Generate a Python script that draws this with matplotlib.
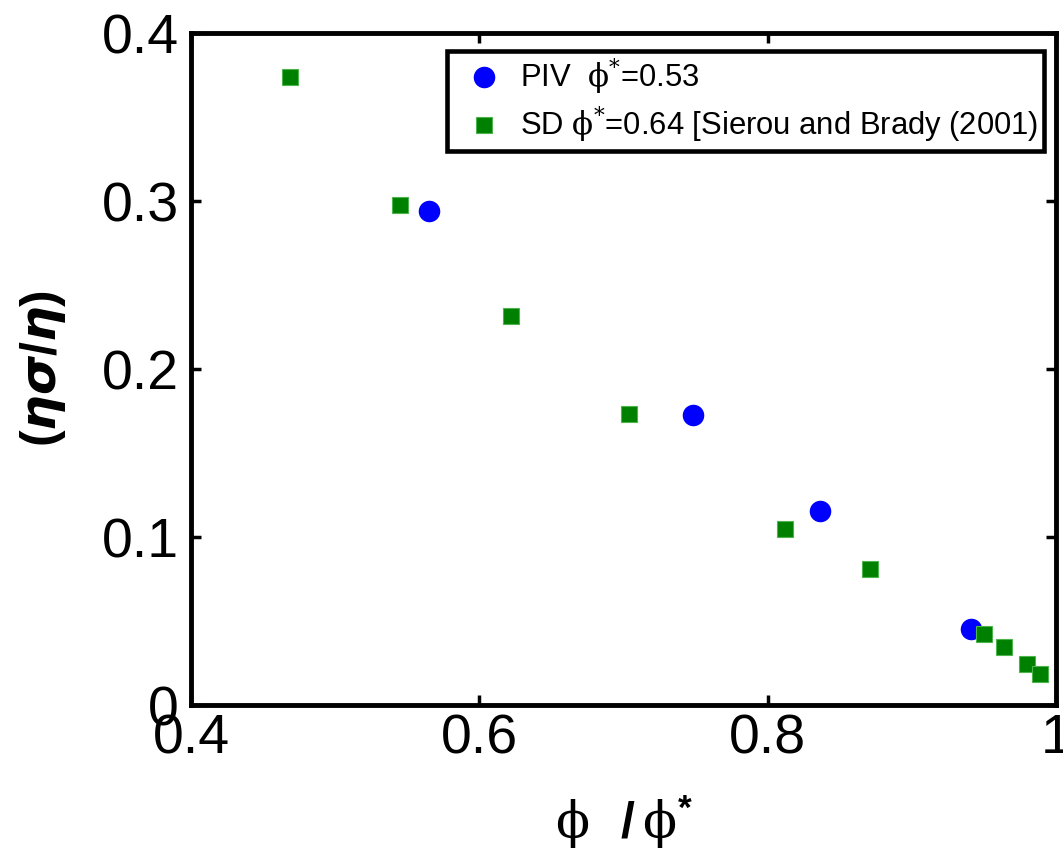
import matplotlib
matplotlib.use("Agg")
import matplotlib.pyplot as plt

plt.rcParams['font.family'] = ['Liberation Sans', 'DejaVu Sans']
plt.rcParams['mathtext.fontset'] = 'custom'
plt.rcParams['mathtext.rm'] = 'DejaVu Serif'
plt.rcParams['mathtext.it'] = 'DejaVu Serif:italic'
plt.rcParams['mathtext.bf'] = 'Liberation Sans:bold'

# Data
piv_x = [0.565, 0.748, 0.836, 0.941]
piv_y = [0.294, 0.1726, 0.1157, 0.0451]
sd_x = [0.4687, 0.5448, 0.6219, 0.704, 0.812, 0.871, 0.950, 0.964, 0.980, 0.989]
sd_y = [0.3736, 0.2976, 0.2314, 0.1734, 0.1046, 0.0811, 0.0424, 0.0347, 0.0242, 0.0185]
piv_label = r"PIV  $\mathrm{\phi}^{*}$=0.53"
sd_label = r"SD $\mathrm{\phi}^{*}$=0.64 [Sierou and Brady (2001)"
x_ticks = [0.4, 0.6, 0.8, 1.0]
x_ticklabels = ['0.4', '0.6', '0.8', '1']
y_ticks = [0, 0.1, 0.2, 0.3, 0.4]
y_ticklabels = ['0', '0.1', '0.2', '0.3', '0.4']

W, H = 1063, 856
fig = plt.figure(figsize=(W / 100, H / 100), dpi=100)
L, R, T, B = 191, 1056, 33, 705
ax = fig.add_axes([L / W, 1 - B / H, (R - L) / W, (B - T) / H])

ax.plot(piv_x, piv_y, linestyle='none', marker='o', markersize=14.5,
        color=(0, 0, 1), markeredgecolor=(0, 0, 1), label=piv_label)
ax.plot(sd_x, sd_y, linestyle='none', marker='s', markersize=12.2,
        color=(0, 0.5, 0), markeredgecolor=(0.3, 0.7, 0.3), markeredgewidth=0.8,
        label=sd_label)

ax.set_xlim(0.4, 1.0)
ax.set_ylim(0, 0.4)
ax.set_xticks(x_ticks)
ax.set_xticklabels(x_ticklabels)
ax.set_yticks(y_ticks)
ax.set_yticklabels(y_ticklabels)
ax.tick_params(direction='in', length=7, width=2.5, top=True, right=True,
               labelsize=40, pad=9)
ax.tick_params(axis='x', pad=6)
for sp in ax.spines.values():
    sp.set_linewidth(3.5)

ax.set_xlabel(r"$\mathrm{\phi}\ \ \mathbf{/}\,\mathrm{\phi}^{\mathbf{*}}$", fontsize=36,
              labelpad=20)
ax.set_ylabel(r"$\mathbf{(}\boldsymbol{\eta\sigma}\mathbf{/}\boldsymbol{\eta}\mathbf{)}$",
              fontsize=36, labelpad=24)

leg = ax.legend(loc='upper right', bbox_to_anchor=(1044 / W, 1 - 51 / H),
                bbox_transform=fig.transFigure, borderaxespad=0,
                fancybox=False, framealpha=1, edgecolor='black',
                fontsize=22.3, handlelength=2.0, handletextpad=0.15,
                borderpad=0.2, labelspacing=0.25, markerscale=1.0,
                numpoints=1)
leg.get_frame().set_linewidth(3.3)

fig.savefig('out.png', dpi=100)
